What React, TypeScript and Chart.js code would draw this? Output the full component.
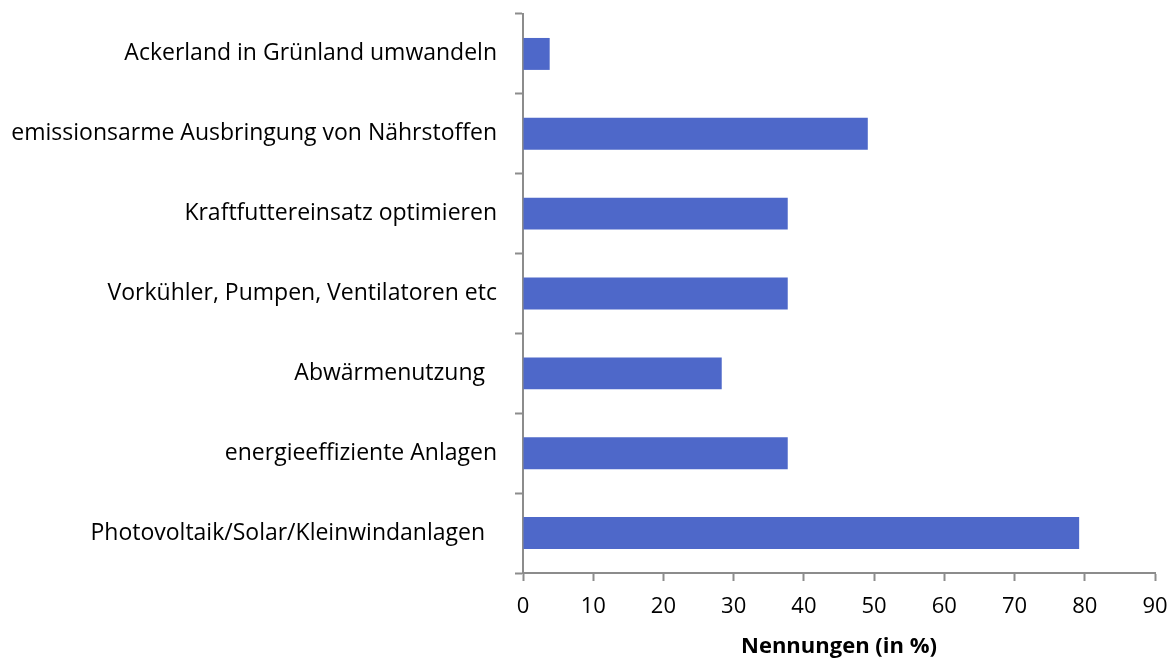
import React, { useEffect, useRef } from "react";
import { Chart, registerables } from "chart.js";

Chart.register(...registerables);

const categories = [
  "Ackerland in Grünland umwandeln",
  "emissionsarme Ausbringung von Nährstoffen",
  "Kraftfuttereinsatz optimieren",
  "Vorkühler, Pumpen, Ventilatoren etc",
  "Abwärmenutzung  ",
  "energieeffiziente Anlagen",
  "Photovoltaik/Solar/Kleinwindanlagen  ",
];
const values = [3.8, 49.1, 37.7, 37.7, 28.3, 37.7, 79.2];
const xTitle = "Nennungen (in %)";
const xMin = 0;
const xMax = 90;
const xStep = 10;

const FONT = "'Open Sans', sans-serif";
const AXIS = "#8c8c8c";

export default function App() {
  const ref = useRef<HTMLCanvasElement | null>(null);
  useEffect(() => {
    if (!ref.current) return;
    const chart = new Chart(ref.current, {
      type: "bar",
      data: {
        labels: categories,
        datasets: [
          {
            data: values,
            backgroundColor: "#4e68c9",
            borderWidth: 0,
            categoryPercentage: 1,
            barPercentage: 0.4,
          },
        ],
      },
      options: {
        indexAxis: "y",
        responsive: false,
        animation: false,
        layout: { padding: { top: 14, right: 20, left: 0, bottom: 0 } },
        plugins: { legend: { display: false }, tooltip: { enabled: false } },
        scales: {
          y: {
            grid: {
              display: true,
              offset: true,
              drawOnChartArea: false,
              drawTicks: true,
              tickLength: 8,
              tickWidth: 2,
              tickColor: AXIS,
            },
            border: { display: true, color: AXIS, width: 2 },
            ticks: {
              color: "#000",
              padding: 18,
              font: { family: FONT, size: 23 },
              autoSkip: false,
            },
            afterFit: (s: any) => {
              s.width = 523;
              s.paddingTop = 0;
              s.paddingBottom = 0;
            },
          },
          x: {
            min: xMin,
            max: xMax,
            grid: {
              display: true,
              drawOnChartArea: false,
              drawTicks: true,
              tickLength: 8,
              tickWidth: 2,
              tickColor: AXIS,
            },
            border: { display: true, color: AXIS, width: 2 },
            ticks: {
              stepSize: xStep,
              color: "#000",
              padding: 13,
              font: { family: FONT, size: 22 },
              maxRotation: 0,
            },
            title: {
              display: true,
              text: xTitle,
              color: "#000",
              font: { family: FONT, size: 22, weight: "bold" },
              padding: { top: 0, bottom: 1 },
            },
            afterFit: (s: any) => {
              s.height = 88;
              s.paddingLeft = 0;
              s.paddingRight = 0;
            },
          },
        },
      },
    });
    return () => chart.destroy();
  }, []);
  return (
    <div style={{ position: "absolute", left: 0, top: 0, width: 1175, height: 661, background: "#fff" }}>
      <canvas ref={ref} width={1175} height={661} style={{ display: "block" }} />
    </div>
  );
}
